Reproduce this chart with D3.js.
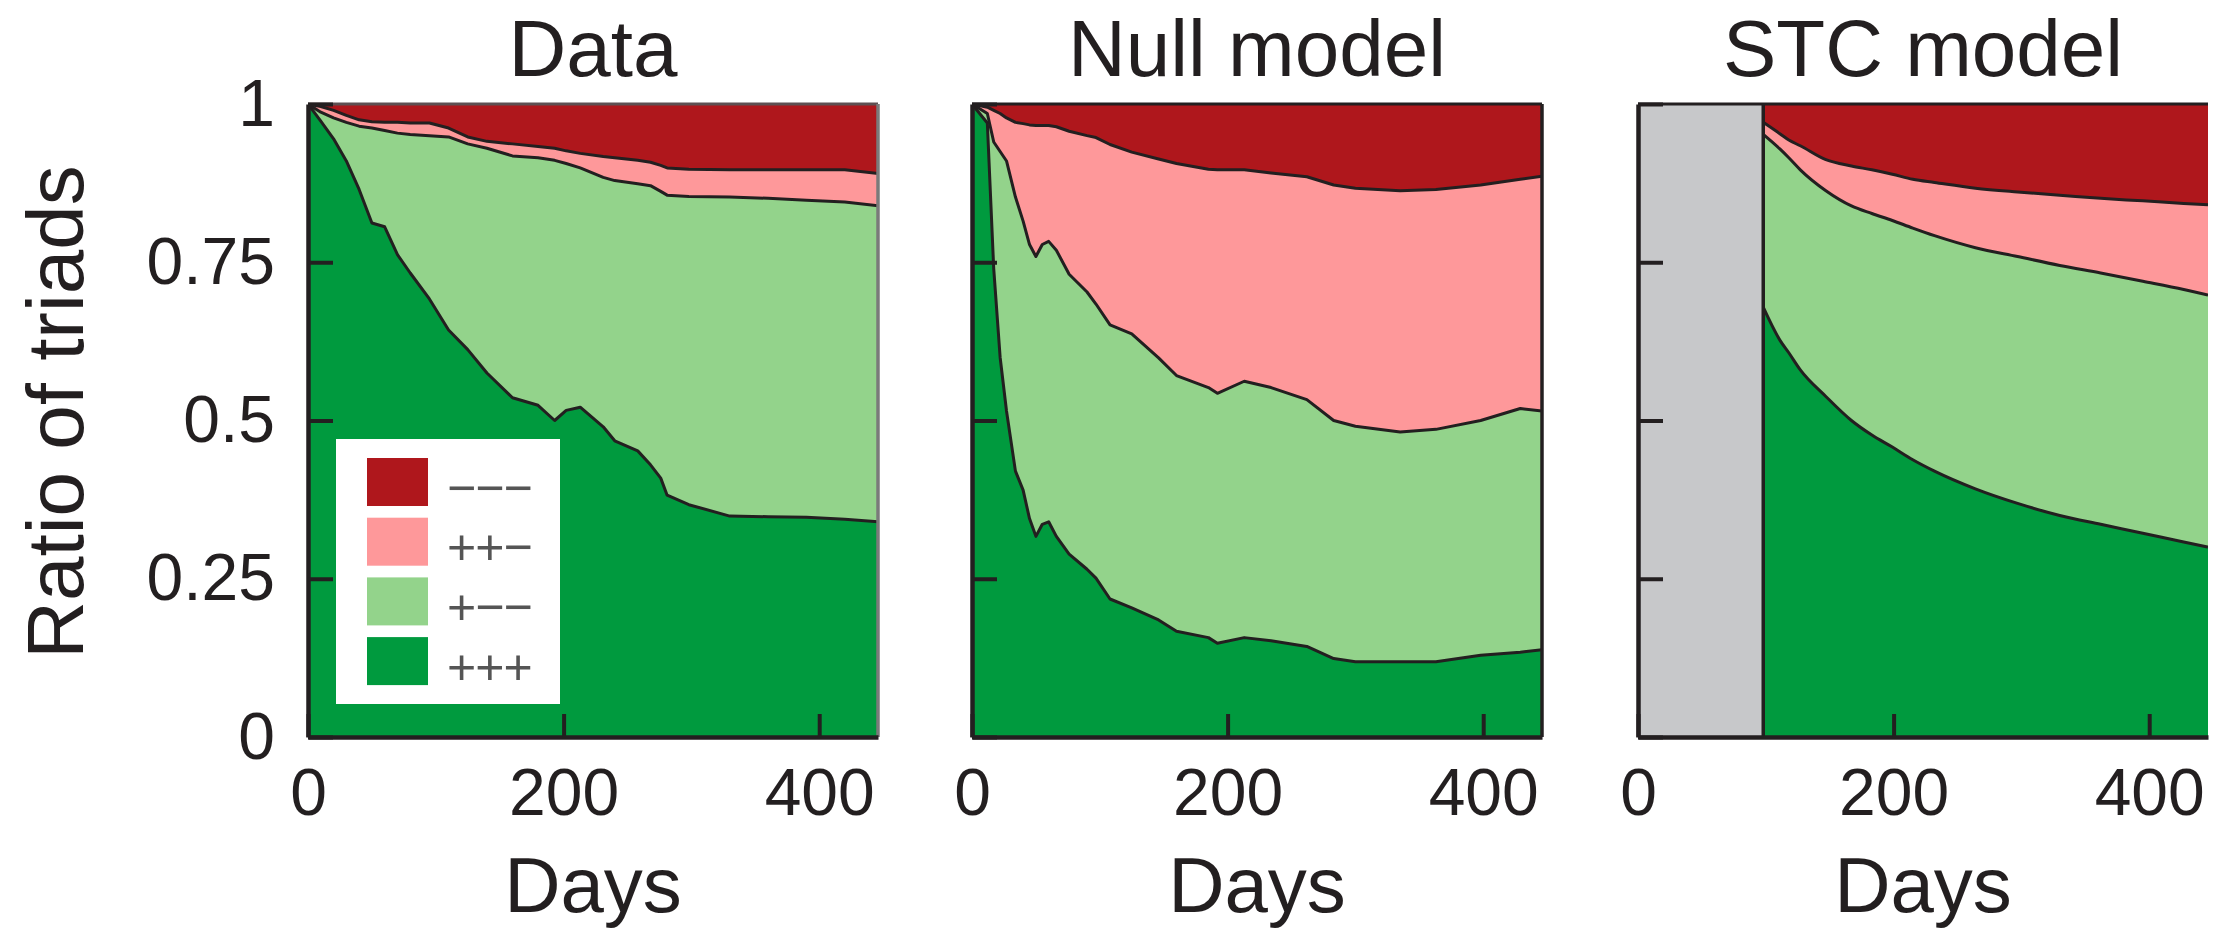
<!DOCTYPE html>
<html><head><meta charset="utf-8">
<script src="https://cdn.jsdelivr.net/npm/d3@7"></script>
<style>
html,body{margin:0;padding:0;background:#fff;}
svg{display:block;font-family:"Liberation Sans",Arial,Helvetica,sans-serif;}
</style></head><body>
<svg id="chart" width="2234" height="934"></svg>
<script>
// ---- categories / labels ----
const categories = ["+++", "+\u2212\u2212", "++\u2212", "\u2212\u2212\u2212"];
const seriesKeys = ["ppp", "pmm", "ppm", "mmm"];
const panelTitles = ["Data", "Null model", "STC model"];
const xTicks = [0, 200, 400];
const yTicks = [0, 0.25, 0.5, 0.75, 1];
const xLabel = "Days";
const yLabel = "Ratio of triads";

// ---- Data panel (fractions of each triad type) ----
const dataDays = [0, 10, 20, 30, 40, 50, 60, 70, 80, 95, 110, 125, 140, 160, 180, 193, 202, 213, 231, 240, 258, 268, 276, 281, 298, 330, 360, 390, 420, 447];
const dataPPP = [1.000, 0.973, 0.945, 0.910, 0.865, 0.812, 0.806, 0.762, 0.733, 0.692, 0.643, 0.612, 0.575, 0.536, 0.524, 0.500, 0.516, 0.521, 0.490, 0.468, 0.452, 0.430, 0.409, 0.382, 0.367, 0.349, 0.348, 0.347, 0.344, 0.340];
const dataPMM = [0.000, 0.014, 0.033, 0.061, 0.100, 0.150, 0.152, 0.192, 0.219, 0.258, 0.305, 0.325, 0.355, 0.382, 0.391, 0.411, 0.390, 0.378, 0.394, 0.411, 0.422, 0.441, 0.453, 0.474, 0.487, 0.504, 0.503, 0.501, 0.501, 0.499];
const dataPPM = [0.000, 0.009, 0.012, 0.011, 0.010, 0.010, 0.013, 0.017, 0.018, 0.020, 0.014, 0.011, 0.011, 0.019, 0.018, 0.019, 0.020, 0.023, 0.033, 0.036, 0.037, 0.037, 0.041, 0.043, 0.043, 0.043, 0.045, 0.048, 0.051, 0.051];
const dataMMM = [0.000, 0.004, 0.010, 0.018, 0.025, 0.028, 0.029, 0.029, 0.030, 0.030, 0.038, 0.052, 0.059, 0.063, 0.067, 0.070, 0.074, 0.078, 0.083, 0.085, 0.089, 0.092, 0.097, 0.101, 0.103, 0.104, 0.104, 0.104, 0.104, 0.110];

// ---- Null model panel ----
const nullDays = [0, 12, 17, 22, 27, 34, 40, 45, 50, 55, 60, 66, 76, 90, 97, 108, 125, 146, 160, 185, 192, 213, 234, 262, 283, 300, 335, 363, 398, 429, 446];
const nullPPP = [1.000, 0.970, 0.740, 0.600, 0.515, 0.420, 0.390, 0.345, 0.317, 0.336, 0.340, 0.317, 0.289, 0.265, 0.251, 0.218, 0.204, 0.185, 0.167, 0.157, 0.148, 0.157, 0.152, 0.143, 0.124, 0.119, 0.119, 0.119, 0.129, 0.134, 0.138];
const nullPMM = [0.000, 0.015, 0.200, 0.325, 0.395, 0.433, 0.425, 0.433, 0.442, 0.442, 0.443, 0.452, 0.442, 0.438, 0.433, 0.433, 0.433, 0.414, 0.404, 0.395, 0.395, 0.405, 0.400, 0.390, 0.376, 0.372, 0.363, 0.367, 0.371, 0.385, 0.377];
const nullPPM = [0.000, 0.010, 0.050, 0.060, 0.068, 0.118, 0.154, 0.189, 0.207, 0.188, 0.183, 0.195, 0.226, 0.247, 0.263, 0.285, 0.287, 0.314, 0.335, 0.345, 0.353, 0.334, 0.339, 0.352, 0.372, 0.376, 0.381, 0.379, 0.372, 0.362, 0.371];
const nullMMM = [0.000, 0.005, 0.010, 0.015, 0.022, 0.029, 0.031, 0.033, 0.034, 0.034, 0.034, 0.036, 0.043, 0.050, 0.053, 0.064, 0.076, 0.087, 0.094, 0.103, 0.104, 0.104, 0.109, 0.115, 0.128, 0.133, 0.137, 0.135, 0.128, 0.119, 0.114];

// ---- STC model panel (starts after the grey warm-up period) ----
const stcDays = [98, 111, 118, 127, 147, 167, 183, 199, 215, 232, 264, 297, 330, 362, 395, 427, 446];
const stcPPP = [0.679, 0.627, 0.607, 0.580, 0.538, 0.500, 0.477, 0.458, 0.438, 0.420, 0.392, 0.369, 0.350, 0.336, 0.322, 0.308, 0.300];
const stcPMM = [0.273, 0.302, 0.308, 0.316, 0.325, 0.339, 0.350, 0.358, 0.366, 0.372, 0.381, 0.390, 0.395, 0.397, 0.398, 0.399, 0.398];
const stcPPM = [0.019, 0.024, 0.028, 0.038, 0.049, 0.063, 0.069, 0.073, 0.077, 0.084, 0.094, 0.102, 0.111, 0.118, 0.127, 0.136, 0.143];
const stcMMM = [0.029, 0.047, 0.057, 0.066, 0.088, 0.098, 0.104, 0.111, 0.119, 0.124, 0.133, 0.139, 0.144, 0.149, 0.153, 0.157, 0.159];

// ---- styling ----
const colors = {ppp: "#009A3E", pmm: "#93D38B", ppm: "#FE989A", mmm: "#AF171C"};
const greyColor = "#C7C8CA";
const ink = "#231F20";

const plotTop = 104, plotBottom = 737, plotW = 570;
const panelLefts = [308, 972, 1638];

const svg = d3.select("#chart");

const y = d3.scaleLinear().domain([0, 1]).range([plotBottom - plotTop, 0]);
const x = d3.scaleLinear().domain([0, 446]).range([0, plotW]);

function rows(days, a, b, c, d) {
  return days.map((day, i) => ({day, ppp: a[i], pmm: b[i], ppm: c[i], mmm: d[i]}));
}

const panels = [
  {title: panelTitles[0], rows: rows(dataDays, dataPPP, dataPMM, dataPPM, dataMMM), smooth: false, yLabels: true, grey: null, rightBorder: "#7a7a7a"},
  {title: panelTitles[1], rows: rows(nullDays, nullPPP, nullPMM, nullPPM, nullMMM), smooth: false, yLabels: false, grey: null, rightBorder: ink},
  {title: panelTitles[2], rows: rows(stcDays, stcPPP, stcPMM, stcPPM, stcMMM), smooth: true, yLabels: false, grey: stcDays[0], rightBorder: null}
];

const stack = d3.stack().keys(seriesKeys);

panels.forEach((p, pi) => {
  const g = svg.append("g").attr("transform", `translate(${panelLefts[pi]},${plotTop})`);
  const clipId = "clip" + pi;
  g.append("clipPath").attr("id", clipId).append("rect")
    .attr("x", 0).attr("y", 0).attr("width", plotW).attr("height", plotBottom - plotTop);
  const inner = g.append("g").attr("clip-path", `url(#${clipId})`);

  const curve = p.smooth ? d3.curveMonotoneX : d3.curveLinear;
  const layers = stack(p.rows);
  const area = d3.area().curve(curve)
    .x(d => x(d.data.day)).y0(d => y(d[0])).y1(d => y(d[1]));
  inner.selectAll("path.layer").data(layers).join("path")
    .attr("class", "layer")
    .attr("fill", d => colors[d.key])
    .attr("stroke", d => colors[d.key]).attr("stroke-width", 0.6)
    .attr("d", area);

  const line = d3.line().curve(curve).x(d => x(d.data.day)).y(d => y(d[1]));
  inner.selectAll("path.bound").data(layers.slice(0, 3)).join("path")
    .attr("class", "bound")
    .attr("fill", "none").attr("stroke", ink).attr("stroke-width", 3)
    .attr("stroke-linejoin", "round")
    .attr("d", line);

  if (p.grey !== null) {
    inner.append("rect").attr("x", x(0)).attr("y", 0)
      .attr("width", x(p.grey) - x(0)).attr("height", plotBottom - plotTop)
      .attr("fill", greyColor);
    inner.append("line").attr("x1", x(p.grey)).attr("x2", x(p.grey))
      .attr("y1", 0).attr("y2", plotBottom - plotTop)
      .attr("stroke", ink).attr("stroke-width", 3.5);
  }

  // frame
  const H = plotBottom - plotTop;
  g.append("line").attr("x1", 0).attr("x2", plotW).attr("y1", 0).attr("y2", 0)
    .attr("stroke", pi === 0 ? "#5e5052" : ink).attr("stroke-width", 3);
  if (p.rightBorder) {
    g.append("line").attr("x1", plotW).attr("x2", plotW).attr("y1", 0).attr("y2", H)
      .attr("stroke", p.rightBorder).attr("stroke-width", 3.5);
  }

  // axes
  const yAxis = d3.axisLeft(y).tickValues(yTicks).tickSizeInner(-25).tickSizeOuter(0).tickPadding(33)
    .tickFormat(p.yLabels ? (d => String(d)) : "");
  const ya = g.append("g").call(yAxis);
  const xAxis = d3.axisBottom(x).tickValues(xTicks).tickSizeInner(-23).tickSizeOuter(0).tickPadding(31)
    .tickFormat(d => String(d));
  const xa = g.append("g").attr("transform", `translate(0,${H})`).call(xAxis);

  [ya, xa].forEach(a => {
    a.select(".domain").attr("stroke", ink).attr("stroke-width", 4.5);
    a.selectAll(".tick line").attr("stroke", ink).attr("stroke-width", 4);
    a.selectAll(".tick text").attr("fill", ink).attr("font-size", 66)
      .attr("font-family", "Liberation Sans, Arial, sans-serif");
  });

  // titles
  g.append("text").attr("x", plotW / 2).attr("y", 76 - plotTop)
    .attr("text-anchor", "middle").attr("font-size", 80).attr("fill", ink).text(p.title);
  g.append("text").attr("x", plotW / 2).attr("y", 912 - plotTop)
    .attr("text-anchor", "middle").attr("font-size", 78).attr("fill", ink).text(xLabel);
});

// y axis title
svg.append("text").attr("transform", "translate(83,412) rotate(-90)")
  .attr("text-anchor", "middle").attr("font-size", 80).attr("fill", ink).text(yLabel);

// legend (top-to-bottom: −−−, ++−, +−−, +++)
const legend = svg.append("g");
legend.append("rect").attr("x", 336).attr("y", 439).attr("width", 224).attr("height", 265).attr("fill", "#fff");
const legendOrder = [3, 2, 1, 0];
legendOrder.forEach((ci, i) => {
  const cy = 482 + i * 59.7;
  legend.append("rect").attr("x", 367).attr("y", cy - 24).attr("width", 61).attr("height", 48)
    .attr("fill", colors[seriesKeys[ci]]);
  legend.append("text").attr("x", 447).attr("y", cy + 5).attr("dy", "0.35em")
    .attr("font-size", 50).attr("fill", "#555").attr("letter-spacing", -1).text(categories[ci]);
});
</script>
</body></html>
